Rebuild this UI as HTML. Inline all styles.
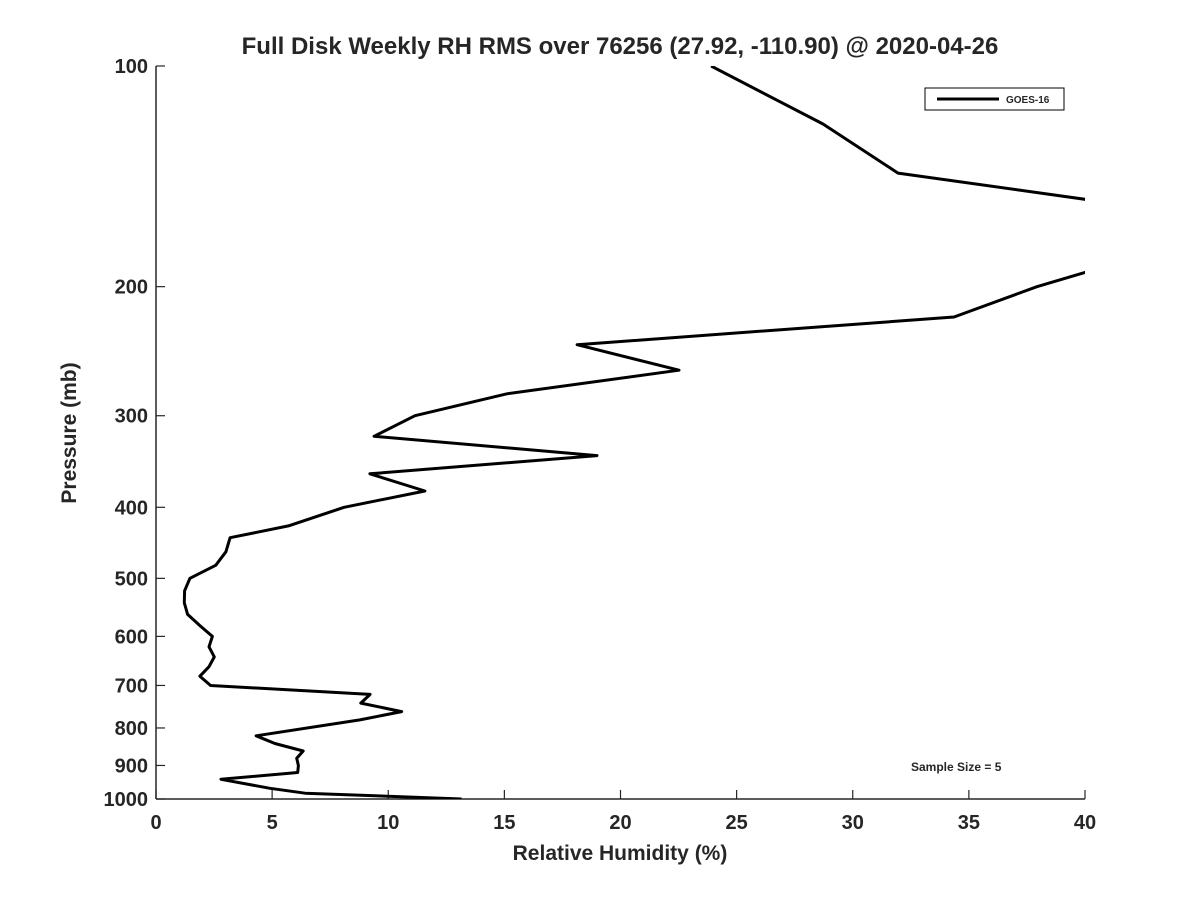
<!DOCTYPE html>
<html><head><meta charset="utf-8"><style>
body{margin:0;background:#fff;}
svg text{font-family:"Liberation Sans","DejaVu Sans",sans-serif;font-weight:bold;fill:#262626;}
</style></head><body>
<svg id="chart" width="1200" height="900" xmlns="http://www.w3.org/2000/svg">
<defs><clipPath id="plotclip"><rect x="156" y="66" width="929" height="733"/></clipPath></defs>
<text x="620" y="54" text-anchor="middle" font-size="24">Full Disk Weekly RH RMS over 76256 (27.92, -110.90) @ 2020-04-26</text>
<g id="axes"></g>
<path id="series" fill="none" stroke="#000" stroke-width="3" stroke-linejoin="round" clip-path="url(#plotclip)"/>
<text x="620" y="860" text-anchor="middle" font-size="21">Relative Humidity (%)</text>
<text transform="translate(76,433) rotate(-90)" text-anchor="middle" font-size="21">Pressure (mb)</text>
<g>
<rect x="925" y="88" width="139" height="22" fill="#fff" stroke="#000" stroke-width="1"/>
<line x1="937" y1="99" x2="999" y2="99" stroke="#000" stroke-width="3"/>
<text x="1006" y="103" font-size="10">GOES-16</text>
</g>
<text x="911" y="771" font-size="12">Sample Size = 5</text>
</svg>
<script>
const pressures=[100,120,140,160,190,200,220,240,260,280,300,320,340,360,380,400,424,440,460,480,500,520,540,560,580,600,620,640,660,680,700,720,740,760,780,820,840,860,880,900,920,940,967,982,1000];
const rhValues=[23.9,28.72,31.95,45,40.3,37.93,34.36,18.13,22.52,15.11,11.15,9.39,18.99,9.21,11.58,8.1,5.7,3.19,3.01,2.57,1.46,1.23,1.22,1.36,1.89,2.43,2.28,2.51,2.28,1.89,2.35,9.22,8.82,10.58,8.78,4.31,5.12,6.34,6.06,6.13,6.10,2.80,4.91,6.42,13.16];
const xTicks=[0,5,10,15,20,25,30,35,40];
const yTicks=[100,200,300,400,500,600,700,800,900,1000];
const L=156,R=1085,T=66,B=799;
const xs=v=>L+(v-0)/(40-0)*(R-L);
const ys=p=>T+(Math.log10(p)-2)/(3-2)*(B-T);
const NS='http://www.w3.org/2000/svg';
const ax=document.getElementById('axes');
function mk(tag,attrs,parent){const e=document.createElementNS(NS,tag);for(const k in attrs)e.setAttribute(k,attrs[k]);parent.appendChild(e);return e;}
const xl=mk('line',{x1:L,y1:B,x2:R,y2:B,stroke:'#262626','stroke-width':1.5},ax);


const yl=mk('line',{x1:L,y1:T,x2:L,y2:B,stroke:'#262626','stroke-width':1.5},ax);


xTicks.forEach(v=>{
 const x=xs(v);
 const t=mk('line',{x1:x,y1:B,x2:x,y2:B-9,stroke:'#262626','stroke-width':1.2},ax);
 
 
 const tx=mk('text',{x:x,y:B+30,'text-anchor':'middle','font-size':20},ax);
 tx.textContent=v;
 
 
});
yTicks.forEach(p=>{
 const y=ys(p);
 const t=mk('line',{x1:L,y1:y,x2:L+9,y2:y,stroke:'#262626','stroke-width':1.2},ax);
 
 
 const tx=mk('text',{x:L-8,y:y+7,'text-anchor':'end','font-size':20},ax);
 tx.textContent=p;
 
 
});
document.getElementById('series').setAttribute('d',pressures.map((p,i)=>(i?'L':'M')+xs(rhValues[i]).toFixed(1)+' '+ys(p).toFixed(1)).join(' '));
</script>
</body></html>
